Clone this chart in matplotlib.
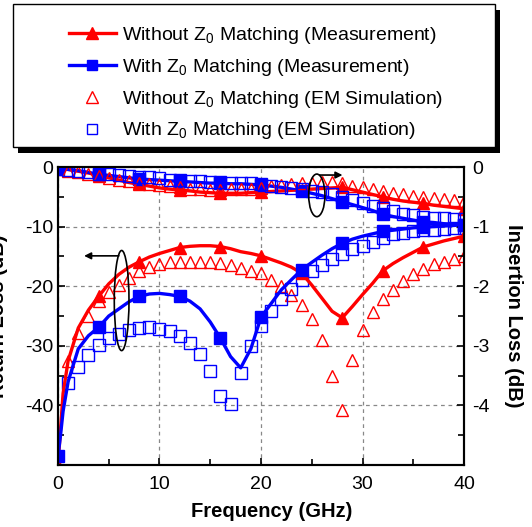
import numpy as np
import matplotlib.pyplot as plt
from matplotlib.lines import Line2D
from matplotlib.patches import Ellipse, Rectangle

plt.rcParams['font.family'] = 'Liberation Sans'
plt.rcParams['font.size'] = 14
plt.rcParams['mathtext.fontset'] = 'custom'
plt.rcParams['mathtext.rm'] = 'Liberation Sans'
plt.rcParams['mathtext.it'] = 'Liberation Sans:italic'

RED = '#ff0000'
BLUE = '#0000ff'

############### data ###############
# measured (line + markers every 4 GHz)
freq_meas = [0, 0.25, 0.5] + list(range(1, 41))
rl_wo_meas = [-50, -44, -38, -32.5, -27, -24, -21.7, -19.6, -18, -16.8, -15.9, -15.1,
              -14.5, -14, -13.5, -13.3, -13.2, -13.2, -13.35, -13.7, -14.2, -14.5, -14.9,
              -15.5, -16.1, -16.8, -17.8, -19.8, -22.0, -24.2, -25.3, -23.4, -21.4, -19.5,
              -17.4, -16.2, -15.2, -14.3, -13.4, -12.9, -12.4, -12.0, -11.6]
rl_w_meas = [-48.5, -45, -41, -36, -30.5, -28.3, -26.9, -25, -23.8, -22.6, -21.7, -21.3,
             -21.2, -21.4, -21.7, -22.5, -23.8, -26, -28.7, -31.8, -33.7, -30.5, -25.2,
             -22.9, -20.6, -18.9, -17.25, -16, -14.8, -13.7, -12.8, -12.1, -11.6, -11.2,
             -10.8, -10.6, -10.4, -10.2, -10.1, -10.0, -9.9, -9.8, -9.7]
il_wo_meas = [-0.03, -0.03, -0.03, -0.04, -0.07, -0.1, -0.14, -0.18, -0.22, -0.26, -0.29,
              -0.32, -0.35, -0.37, -0.385, -0.40, -0.42, -0.43, -0.44, -0.44, -0.44, -0.43,
              -0.42, -0.41, -0.40, -0.39, -0.38, -0.37, -0.36, -0.35, -0.34, -0.38, -0.42,
              -0.46, -0.50, -0.54, -0.57, -0.59, -0.61, -0.64, -0.66, -0.68, -0.70]
il_w_meas = [-0.03, -0.03, -0.03, -0.04, -0.06, -0.09, -0.12, -0.14, -0.16, -0.18, -0.2,
             -0.21, -0.22, -0.23, -0.24, -0.25, -0.26, -0.27, -0.27, -0.28, -0.28, -0.29,
             -0.30, -0.32, -0.34, -0.37, -0.40, -0.44, -0.48, -0.53, -0.58, -0.63, -0.68,
             -0.73, -0.79, -0.83, -0.86, -0.89, -0.92, -0.93, -0.95, -0.96, -0.97]

# EM simulation (markers only, 1 GHz step)
freq_sim = list(range(1, 41))
rl_wo_sim = [-32.6, -27.9, -25, -22.4, -20.9, -19.8, -18.6, -17.5, -16.8, -16.3, -16.0,
             -15.85, -15.85, -15.85, -16.0, -16.1, -16.5, -17.0, -17.5, -17.8, -18.9, -20.0,
             -21.4, -23.1, -25.5, -29.0, -35.0, -40.7, -32.4, -27.4, -24.4, -22.2, -20.6,
             -19.1, -17.9, -17.1, -16.3, -15.9, -15.5, -14.9]
rl_w_sim = [-36.3, -33.6, -31.6, -29.9, -28.7, -28.0, -27.3, -27.0, -26.9, -27.1, -27.5,
            -28.3, -29.5, -31.4, -34.3, -38.5, -39.7, -34.5, -30.0, -26.7, -24.1, -22.2,
            -20.5, -18.9, -17.5, -16.4, -15.5, -14.6, -13.8, -13.2, -12.5, -11.9, -11.3,
            -11.0, -10.8, -10.6, -10.5, -10.4, -10.3, -10.3]
il_wo_sim = [-0.06, -0.09, -0.12, -0.15, -0.18, -0.21, -0.24, -0.26, -0.28, -0.30, -0.32,
             -0.33, -0.36, -0.37, -0.385, -0.385, -0.37, -0.37, -0.37, -0.35, -0.32, -0.30,
             -0.28, -0.27, -0.26, -0.25, -0.25, -0.27, -0.31, -0.34, -0.37, -0.40, -0.43,
             -0.45, -0.48, -0.50, -0.52, -0.53, -0.55, -0.57]
il_w_sim = [-0.05, -0.07, -0.09, -0.11, -0.12, -0.13, -0.15, -0.16, -0.17, -0.19, -0.21,
            -0.22, -0.23, -0.235, -0.25, -0.25, -0.26, -0.265, -0.27, -0.28, -0.31, -0.33,
            -0.35, -0.37, -0.40, -0.42, -0.46, -0.51, -0.55, -0.60, -0.65, -0.69, -0.73,
            -0.78, -0.80, -0.83, -0.85, -0.86, -0.87, -0.87]

labels = ['Without Z$_0$ Matching (Measurement)',
          'With Z$_0$ Matching (Measurement)',
          'Without Z$_0$ Matching (EM Simulation)',
          'With Z$_0$ Matching (EM Simulation)']

mark_idx = [i for i, f in enumerate(freq_meas) if f % 4 == 0]

############### plot ###############
fig = plt.figure(figsize=(5.32, 5.27), dpi=100)
ax = fig.add_axes([0.109, 0.1176, 0.7632, 0.5654])
ax2 = ax.twinx()

meas_kw = dict(lw=2.4, ms=8, markevery=mark_idx)
sim_kw = dict(ls='none', mfc='none', mew=1.0)

# return loss (left axis)
ax.plot(freq_sim, rl_wo_sim, marker='^', ms=9, color=RED, **sim_kw)
ax.plot(freq_sim, rl_w_sim, marker='s', ms=8, color=BLUE, **sim_kw)
ax.plot(freq_meas, rl_wo_meas, marker='^', color=RED, **meas_kw)
ax.plot(freq_meas, rl_w_meas, marker='s', color=BLUE, **meas_kw)

# insertion loss (right axis)
ax2.plot(freq_meas, il_wo_meas, marker='^', color=RED, **meas_kw)
ax2.plot(freq_meas, il_w_meas, marker='s', color=BLUE, **meas_kw)
ax2.plot(freq_sim, il_wo_sim, marker='^', ms=9, color=RED, **sim_kw)
ax2.plot(freq_sim, il_w_sim, marker='s', ms=8, color=BLUE, **sim_kw)

ax.set_xlim(0, 40)
ax.set_ylim(-50, 0)
ax2.set_ylim(-5, 0)
ax.set_xticks([0, 10, 20, 30, 40])
ax.set_xticks([5, 15, 25, 35], minor=True)
ax.set_yticks([0, -10, -20, -30, -40])
ax.set_yticks([-5, -15, -25, -35, -45], minor=True)
ax2.set_yticks([0, -1, -2, -3, -4])
ax2.set_yticks([-0.5, -1.5, -2.5, -3.5, -4.5], minor=True)
ax.set_yticklabels(['0', '-10', '-20', '-30', '-40'])
ax2.set_yticklabels(['0', '-1', '-2', '-3', '-4'])

for a in (ax, ax2):
    a.tick_params(which='both', direction='in', width=1.2, labelsize=14)
    a.tick_params(which='major', length=5)
    a.tick_params(which='minor', length=4)
    for s in a.spines.values():
        s.set_linewidth(1.5)
ax.tick_params(axis='y', right=False)
ax.tick_params(axis='x', pad=8)
ax2.tick_params(axis='y', pad=6)
ax.grid(True, which='major', ls='--', color='#888888', lw=0.9, dashes=(3, 3))

ax.set_xlabel('Frequency (GHz)', fontweight='bold', fontsize=14.5)
ax.xaxis.set_label_coords(0.527, -0.125)
fig.text(0.015, 0.40, 'Return Loss (dB)', rotation=90, ha='right', va='center',
         fontweight='bold', fontsize=14.5)
ax2.set_ylabel('Insertion Loss (dB)', fontweight='bold', fontsize=14.5, rotation=-90,
               labelpad=24)

# ellipses and arrows (right-axis data coords)
ax2.add_patch(Ellipse((6.27, -2.24), 1.45, 1.68, fill=False, ec='black', lw=1.2, zorder=5))
ax2.annotate('', xy=(2.3, -1.49), xytext=(6.27, -1.49),
             arrowprops=dict(arrowstyle='-|>', color='black', lw=1.2, mutation_scale=10))
ax2.add_patch(Ellipse((25.5, -0.475), 1.6, 0.715, fill=False, ec='black', lw=1.2, zorder=5))
ax2.annotate('', xy=(28.3, -0.134), xytext=(25.5, -0.134),
             arrowprops=dict(arrowstyle='-|>', color='black', lw=1.2, mutation_scale=10))

# legend box with black shadow
fig.patches.append(Rectangle((18 / 532, 1 - 153 / 527), 482 / 532, 143 / 527,
                             transform=fig.transFigure, fc='black', ec='none'))
fig.patches.append(Rectangle((13 / 532, 1 - 147 / 527), 482 / 532, 143 / 527,
                             transform=fig.transFigure, fc='white', ec='black', lw=1.0))
handles = [Line2D([], [], color=RED, marker='^', lw=2.4, ms=8),
           Line2D([], [], color=BLUE, marker='s', lw=2.4, ms=7),
           Line2D([], [], color=RED, marker='^', ls='none', mfc='none', ms=8, mew=1.0),
           Line2D([], [], color=BLUE, marker='s', ls='none', mfc='none', ms=7, mew=1.0)]
fig.legend(handles, labels, loc='center', bbox_to_anchor=(0.481, 0.842),
           frameon=False, handlelength=2.4, handletextpad=0.3, labelspacing=0.55,
           numpoints=1, fontsize=14)

plt.savefig('out.png', dpi=100)
